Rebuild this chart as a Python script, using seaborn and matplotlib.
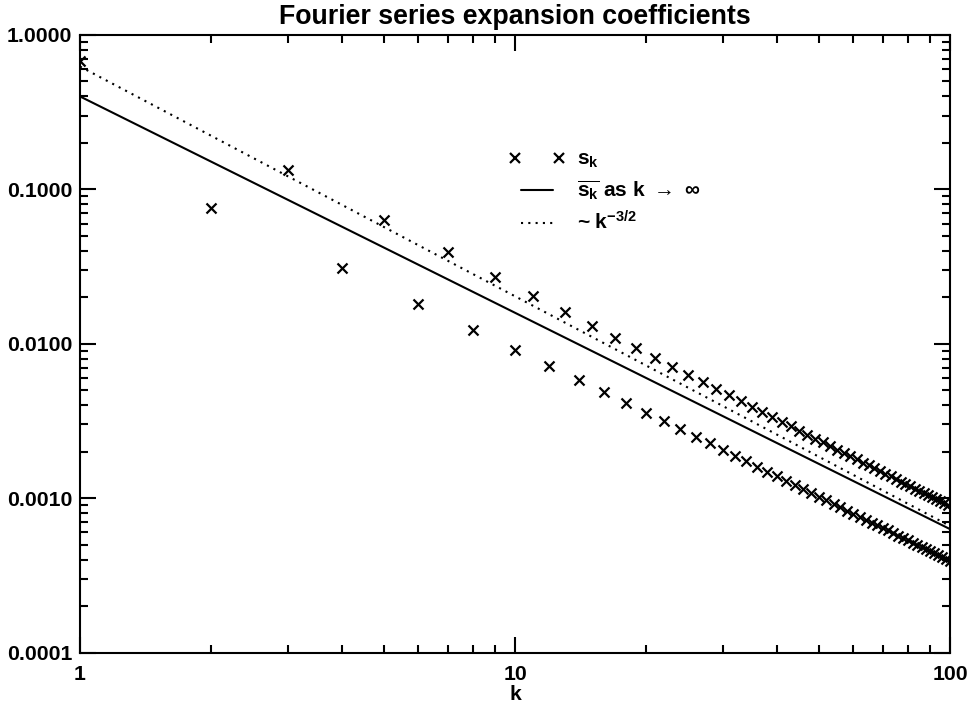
import matplotlib
matplotlib.use("Agg")
import matplotlib.pyplot as plt
import matplotlib.ticker as mticker
from matplotlib.lines import Line2D
from matplotlib.legend_handler import HandlerLine2D
import pandas as pd
import seaborn as sns

# Fourier coefficients s_k, split by parity of k
k_odd = list(range(1, 100, 2))
s_odd = [0.680, 0.1338, 0.0636, 0.0391, 0.02723, 0.02040, 0.01606, 0.01309,
         0.01094, 0.009335, 0.008095, 0.00711, 0.006314, 0.005658, 0.005112,
         0.00465, 0.004254, 0.003913, 0.003616, 0.003356, 0.003126, 0.002922,
         0.002739, 0.002576, 0.002428, 0.002294, 0.002172, 0.002062, 0.00196,
         0.001866, 0.00178, 0.001701, 0.001627, 0.001559, 0.001496, 0.001436,
         0.001381, 0.001329, 0.001281, 0.001235, 0.001192, 0.001152, 0.001114,
         0.001078, 0.001044, 0.001011, 0.000981, 0.000952, 0.000924, 0.000898]
k_even = list(range(2, 101, 2))
s_even = [0.0752, 0.03087, 0.01809, 0.01233, 0.009146, 0.007152, 0.005806,
          0.004845, 0.004128, 0.003577, 0.003141, 0.00279, 0.0025, 0.00226,
          0.002055, 0.001882, 0.001732, 0.001601, 0.001486, 0.001386, 0.001296,
          0.001215, 0.001143, 0.001078, 0.001019, 0.000966, 0.000917, 0.000872,
          0.000831, 0.000793, 0.000758, 0.000725, 0.000695, 0.000667, 0.000641,
          0.000617, 0.000594, 0.000572, 0.000552, 0.000533, 0.000515, 0.000498,
          0.000482, 0.000467, 0.000453, 0.000439, 0.000426, 0.000414, 0.000403,
          0.000392]

# straight power-law lines (end points at k = 1 and k = 100)
k_line = [1, 100]
mean_line = [0.40, 0.00063]
ref_line = [0.625, 0.00066]

y_ticks = [1e-4, 1e-3, 1e-2, 1e-1, 1.0]
y_tick_labels = ["0.0001", "0.0010", "0.0100", "0.1000", "1.0000"]
x_ticks = [1, 10, 100]
x_tick_labels = ["1", "10", "100"]

title = "Fourier series expansion coefficients"
legend_labels = [r"$s_k$",
                 r"$\overline{s_k}$ as k $\rightarrow\ \infty$",
                 r"~ k$^{-3/2}$"]

sns.set_theme(style="white")
plt.rcParams["font.family"] = ["Liberation Sans", "DejaVu Sans"]
plt.rcParams["font.weight"] = "bold"
plt.rcParams["mathtext.fontset"] = "custom"
plt.rcParams["mathtext.rm"] = "Liberation Sans:bold"
plt.rcParams["mathtext.it"] = "Liberation Sans:bold"
plt.rcParams["mathtext.bf"] = "Liberation Sans:bold"
plt.rcParams["mathtext.sf"] = "Liberation Sans:bold"
for key in ["text.color", "axes.labelcolor", "xtick.color", "ytick.color",
            "axes.edgecolor"]:
    plt.rcParams[key] = "black"

W, H = 971, 709
fig = plt.figure(figsize=(W / 100, H / 100), dpi=100)
ax = fig.add_axes([80 / W, 1 - 652.5 / H, 870 / W, 617.5 / H])
ax.set_xscale("log")
ax.set_yscale("log")

df = pd.DataFrame({"k": k_odd + k_even, "s": s_odd + s_even})
sns.scatterplot(data=df, x="k", y="s", marker="x", color="black",
                s=52, linewidth=1.6, ax=ax, legend=False)
sns.lineplot(x=k_line, y=mean_line, color="black", lw=1.5, ax=ax)
sns.lineplot(x=k_line, y=ref_line, color="black", lw=1.5,
             linestyle=(0, (1, 2.5)), ax=ax)

ax.set_xlim(1, 100)
ax.set_ylim(1e-4, 1)
ax.set_xticks(x_ticks)
ax.set_xticklabels(x_tick_labels)
ax.set_yticks(y_ticks)
ax.set_yticklabels(y_tick_labels)
ax.xaxis.set_minor_locator(mticker.LogLocator(base=10, subs=range(2, 10)))
ax.yaxis.set_minor_locator(mticker.LogLocator(base=10, subs=range(2, 10)))
ax.xaxis.set_minor_formatter(mticker.NullFormatter())
ax.yaxis.set_minor_formatter(mticker.NullFormatter())

ax.tick_params(which="both", direction="in", top=True, right=True,
               bottom=True, left=True, width=1.5, colors="black")
ax.tick_params(which="major", length=11.5, labelsize=15.3)
ax.tick_params(which="minor", length=6)
ax.tick_params(axis="x", which="major", pad=9)
ax.tick_params(axis="y", which="major", pad=5.5)
for lab in ax.get_xticklabels() + ax.get_yticklabels():
    lab.set_fontweight("bold")
for sp in ax.spines.values():
    sp.set_linewidth(1.5)
    sp.set_color("black")

ax.set_xlabel("k", fontsize=15.3, fontweight="bold", labelpad=0.5)
ax.set_ylabel("")
ax.set_title(title, fontsize=19.3, fontweight="bold", pad=8)

marker_handle = Line2D([], [], color="black", marker="x", linestyle="none",
                       markersize=7.2, markeredgewidth=1.6)
handles = [
    marker_handle,
    Line2D([], [], color="black", lw=1.5),
    Line2D([], [], color="black", lw=1.5, linestyle=(0, (1, 2.5))),
]
ax.legend(handles, legend_labels, loc="upper left",
          bbox_to_anchor=((515 - 80) / 870, 1 - (150 - 35) / 617.5),
          frameon=False, fontsize=15, numpoints=2, handlelength=2.1,
          handletextpad=0.86, borderpad=0, borderaxespad=0,
          labelspacing=0.4,
          handler_map={marker_handle: HandlerLine2D(marker_pad=0, numpoints=2)})

fig.savefig("out.png", dpi=100)
